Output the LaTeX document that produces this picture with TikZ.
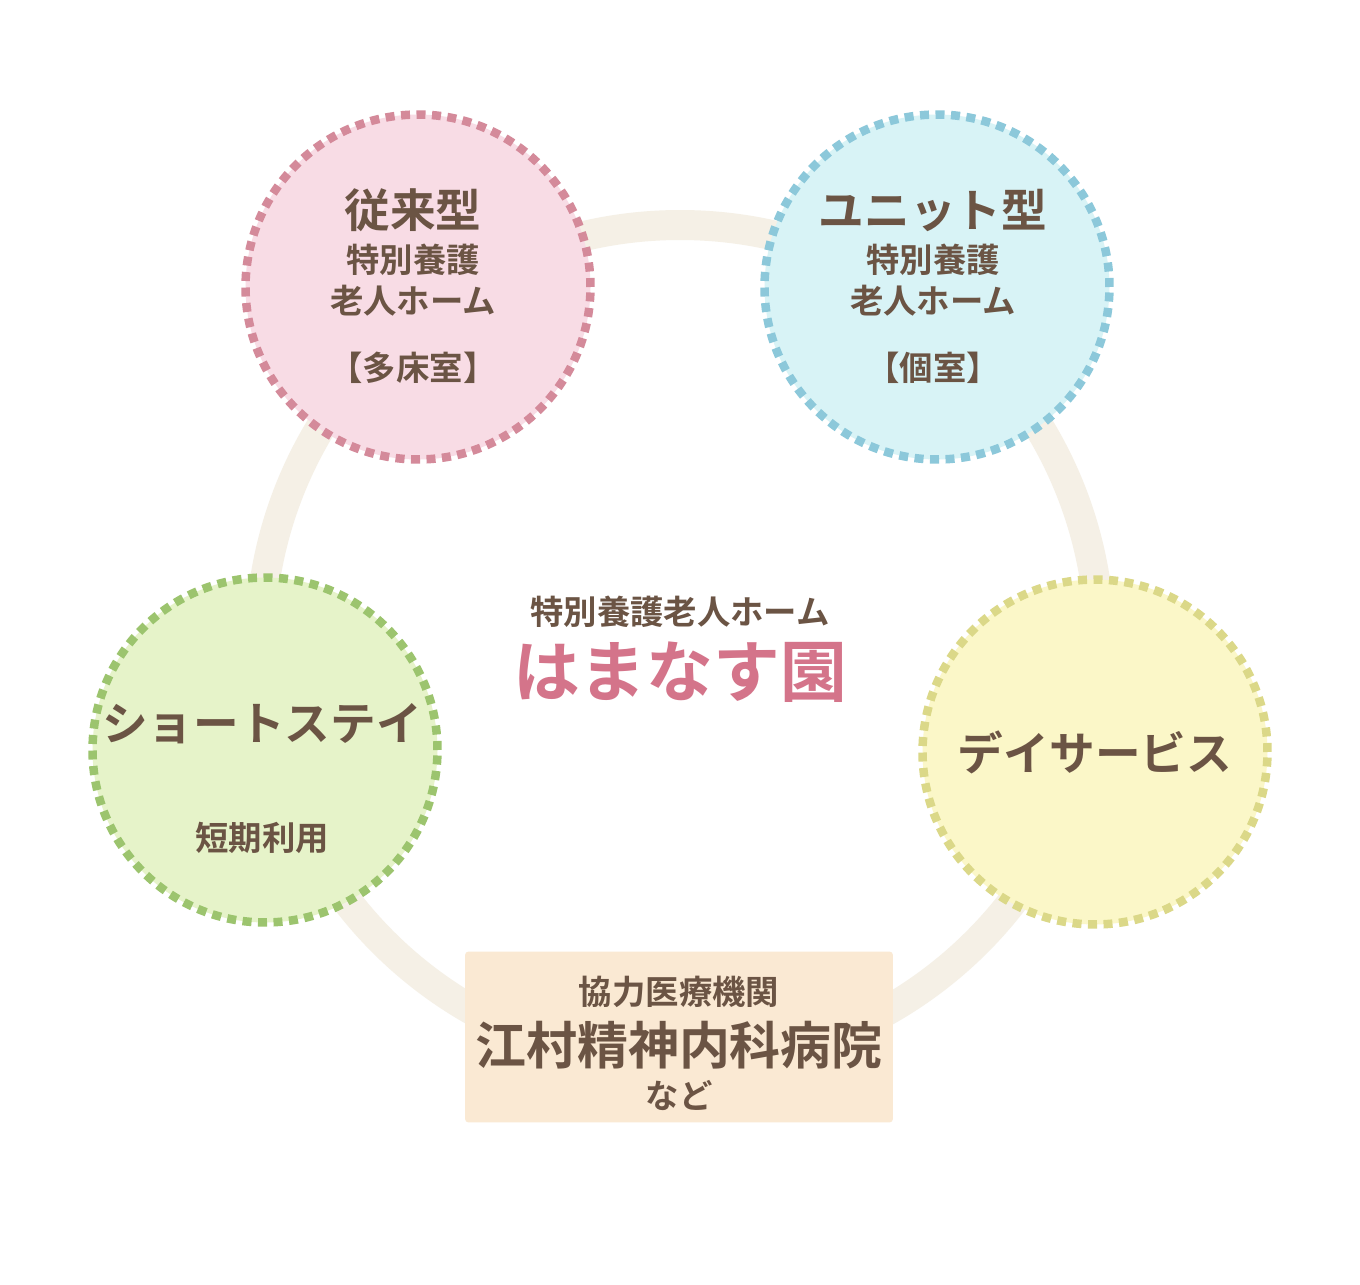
\documentclass[tikz,border=0pt]{standalone}
\usepackage{fontspec}
\newfontfamily\jp{Noto Sans CJK JP}[BoldFont={* Bold}]
\usetikzlibrary{positioning}
\definecolor{ink}{HTML}{6B5444}
\definecolor{ringc}{HTML}{F5F0E6}
\definecolor{pinkf}{HTML}{F8DCE5}\definecolor{pinkd}{HTML}{D48A9A}
\definecolor{bluef}{HTML}{D8F3F6}\definecolor{blued}{HTML}{8CC8DA}
\definecolor{greenf}{HTML}{E6F3C9}\definecolor{greend}{HTML}{9CC46E}
\definecolor{yellf}{HTML}{FBF7C8}\definecolor{yelld}{HTML}{DBD888}
\definecolor{boxf}{HTML}{FAE9D3}
\definecolor{titlec}{HTML}{D4748A}
\tikzset{
  svc/.style={circle,minimum size=6.9cm,line width=0.17cm,
    dash pattern=on 0.18cm off 0.13cm,align=center,inner sep=0pt},
  big/.style={font=\jp\bfseries\fontsize{26}{30}\selectfont,text=ink},
  small/.style={font=\jp\bfseries\fontsize{19}{23}\selectfont,text=ink}
}
\begin{document}
\begin{tikzpicture}[x=0.02cm,y=-0.02cm]
	\fill[white] (0,0) rectangle (1360,1285);
	\useasboundingbox (0,0) rectangle (1360,1285);
	\draw[ringc,line width=0.6cm] (680,645) circle (420);
	\node[svc,draw=pinkd,fill=pinkf] (trad) at (418,287) {};
	\node[svc,draw=blued,fill=bluef] (unit) at (937,287) {};
	\node[svc,draw=greend,fill=greenf] (short) at (265,750) {};
	\node[svc,draw=yelld,fill=yellf] (day) at (1095,752) {};
	\node[fill=boxf,rounded corners=2pt,minimum width=8.56cm,minimum height=3.42cm] (hosp) at (679,1037) {};
	% texts
	\node[big] (tradT) at (413,210) {従来型};
	\node[small,align=center] (tradS) at (413,280) {特別養護\\老人ホーム};
	\node[small] (tradR) at (413,368) {【多床室】};
	\node[big] (unitT) at (933,210) {ユニット型};
	\node[small,align=center] (unitS) at (933,280) {特別養護\\老人ホーム};
	\node[small] (unitR) at (933,368) {【個室】};
	\node[big] (shortT) at (262,724) {ショートステイ};
	\node[small] (shortS) at (262,838) {短期利用};
	\node[big] (dayT) at (1095,752) {デイサービス};
	\node[small] (home) at (680,612) {特別養護老人ホーム};
	\node[font=\jp\bfseries\fontsize{38}{44}\selectfont,text=titlec] (name) at (680,672) {はまなす園};
	\node[small] (hospA) at (679,992) {協力医療機関};
	\node[font=\jp\bfseries\fontsize{29}{34}\selectfont,text=ink] (hospB) at (679,1045) {江村精神内科病院};
	\node[small] (hospC) at (679,1095) {など};
\end{tikzpicture}
\end{document}
